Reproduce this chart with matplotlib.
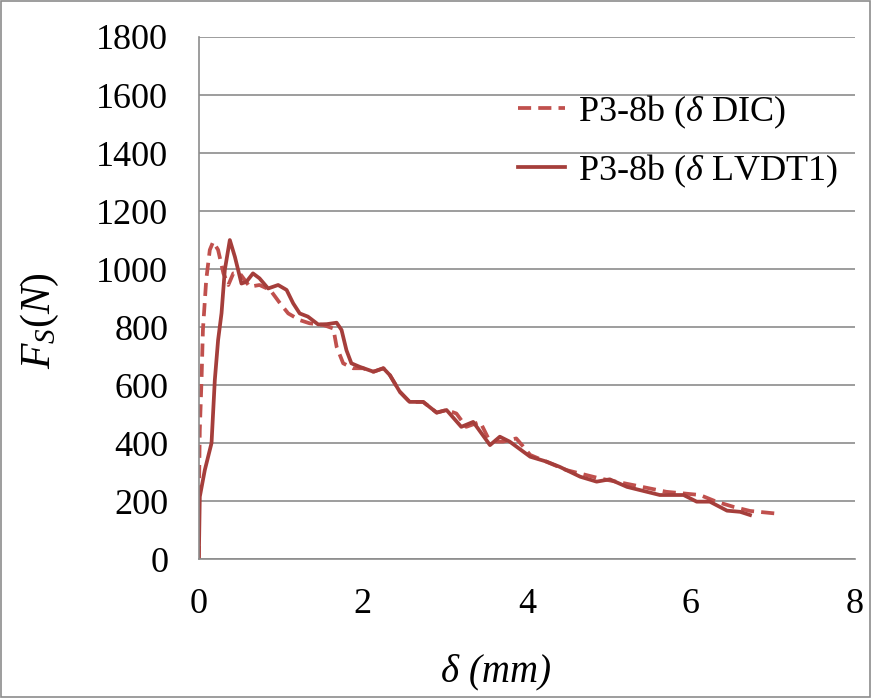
import matplotlib
matplotlib.use("Agg")
import matplotlib.pyplot as plt
from matplotlib.patches import Rectangle

plt.rcParams['font.family'] = ['Liberation Serif', 'DejaVu Serif']
plt.rcParams['mathtext.fontset'] = 'custom'
plt.rcParams['mathtext.rm'] = 'Liberation Serif'
plt.rcParams['mathtext.it'] = 'Liberation Serif:italic'

# P3-8b, delta from LVDT1 (solid)
lvdt_x = [0, 0.012, 0.073, 0.155, 0.195, 0.235, 0.277, 0.317, 0.378, 0.44,
          0.52, 0.58, 0.66, 0.74, 0.845, 0.967, 1.07, 1.15, 1.23, 1.33,
          1.455, 1.56, 1.68, 1.74, 1.80, 1.86, 1.96, 2.13, 2.25, 2.33,
          2.45, 2.57, 2.735, 2.9, 3.02, 3.20, 3.345, 3.55, 3.67, 3.79,
          4.04, 4.24, 4.40, 4.65, 4.85, 5.01, 5.22, 5.62, 5.91, 6.07,
          6.23, 6.44, 6.60, 6.72]
lvdt_y = [0, 215, 307, 400, 617, 755, 848, 997, 1100, 1042,
          950, 956, 985, 968, 933, 945, 928, 882, 847, 836,
          809, 810, 815, 790, 720, 675, 663, 646, 658, 634,
          577, 542, 542, 505, 514, 456, 473, 393, 422, 405,
          353, 336, 318, 284, 267, 275, 249, 221, 221, 198,
          198, 167, 163, 152]

# P3-8b, delta from DIC (dashed)
dic_x = [0, 0.0, 0.012, 0.033, 0.05, 0.09, 0.134, 0.175, 0.235, 0.30,
         0.36, 0.42, 0.50, 0.62, 0.74, 0.87, 0.99, 1.09, 1.23, 1.35,
         1.52, 1.64, 1.68, 1.76, 1.88, 2.0, 2.13, 2.25, 2.33, 2.45,
         2.57, 2.735, 2.9, 3.02, 3.14, 3.26, 3.43, 3.53, 3.63, 3.71,
         3.87, 3.94, 4.04, 4.48, 4.89, 5.30, 5.70, 6.11, 6.31, 6.52,
         6.72, 7.04]
dic_y = [0, 193, 445, 617, 790, 962, 1066, 1094, 1066, 985,
         945, 985, 985, 939, 945, 928, 882, 847, 824, 813,
         807, 795, 732, 675, 658, 658, 646, 658, 634, 577,
         542, 542, 505, 514, 502, 456, 473, 416, 405, 405,
         416, 393, 359, 307, 278, 255, 232, 221, 198, 180,
         166, 157]

fig = plt.figure(figsize=(8.72, 6.98), dpi=100)
ax = fig.add_axes([0.228, 0.199, 0.7525, 0.748])

ax.plot(dic_x, dic_y, color='#C0504D', lw=2.7, dashes=(3.5, 1.9),
        label=r'P3-8b ($\delta$ DIC)')
ax.plot(lvdt_x, lvdt_y, color='#A53E3B', lw=2.7,
        label=r'P3-8b ($\delta$ LVDT1)')

ax.set_xlim(0, 8)
ax.set_ylim(0, 1800)
ax.set_xticks(range(0, 9, 2))
ax.set_yticks(range(0, 1801, 200))
ax.grid(axis='y', color='#8C8C8C', lw=1.2)
ax.set_axisbelow(True)
for s in ['top', 'right']:
    ax.spines[s].set_visible(False)
for s in ['left', 'bottom']:
    ax.spines[s].set_color('#8C8C8C')
    ax.spines[s].set_linewidth(1.2)
ax.tick_params(length=0, labelsize=26)
ax.tick_params(axis='y', pad=22)
ax.tick_params(axis='x', pad=21)

ax.set_ylabel(r'$F_S(N)$', fontsize=30, va='center')
ax.yaxis.set_label_coords(-0.242, 0.456)
ax.set_xlabel('δ (mm)', fontsize=28, style='italic', va='center')
ax.xaxis.set_label_coords(0.453, -0.2165)

ax.legend(loc='upper left', bbox_to_anchor=(0.486, 0.892), frameon=False,
          fontsize=26, handlelength=1.3, handletextpad=0.36, labelspacing=0.6,
          borderpad=0, borderaxespad=0)

fig.patches.append(Rectangle((0.001, 0.002), 0.997, 0.996, transform=fig.transFigure,
                             fill=False, edgecolor='#8C8C8C', lw=1.2))

fig.savefig('out.png', dpi=100)
